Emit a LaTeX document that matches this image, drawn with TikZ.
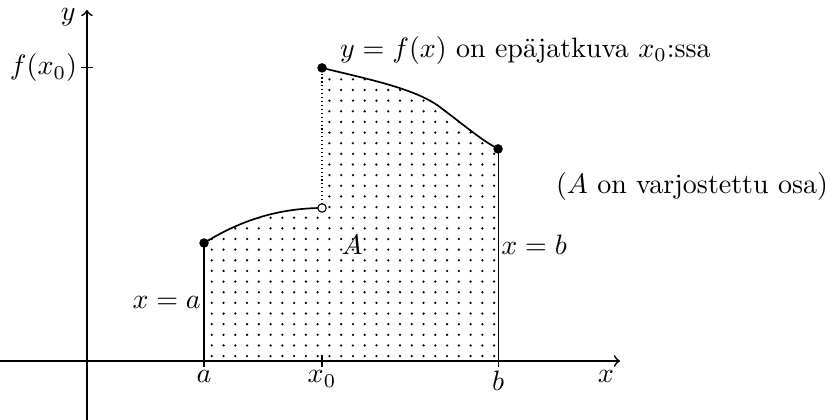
\documentclass[tikz,border=0pt]{standalone}
\usetikzlibrary{patterns.meta}
\tikzdeclarepattern{name=fdots,type=uncolored,
    bottom left={(-.5pt,-.5pt)},top right={(.5pt,.5pt)},
    tile size={(4.2pt,3.8pt)},
    code={\pgfpathcircle{\pgfpointorigin}{0.45pt}\pgfusepath{fill}}}
\begin{document}
\begin{tikzpicture}[scale=1.071,dot/.style={circle,fill,inner sep=0pt,minimum size=3.4pt},
        hole/.style={circle,draw,fill=white,inner sep=0pt,minimum size=3pt},
        graph/.style={semithick},axis/.style={line width=0.6pt}]
            \useasboundingbox(-1.019,-0.691)rectangle(8.646,4.229);
            \coordinate(O)at(0,0);
            \coordinate(XL)at(-1.019,0);
            \coordinate(XR)at(6.244,0);
            \coordinate(YB)at(0,-0.691);
            \coordinate(YT)at(0,4.112);
            \coordinate(YF)at(0,3.433);
            \coordinate(A)at(1.371,0);
            \coordinate(X)at(2.753,0);
            \coordinate(B)at(4.815,0);
            \coordinate(FA)at(1.371,1.382);
            \coordinate(FL)at(2.753,1.792);
            \coordinate(FX)at(2.753,3.433);
            \coordinate(FB)at(4.815,2.484);
            \fill[pattern=fdots](A)--(FA)..controls(1.8,1.65)and(2.25,1.79)..(FL)
                --(FX)..controls(3.3,3.3)and(3.8,3.2)..(4.1,3.0)
                ..controls(4.4,2.78)and(4.6,2.6)..(FB)--(B)--cycle;
            \draw[axis,->](XL)--(XR);
            \draw[axis,->](YB)--(YT);
            \draw([xshift=-2pt]YF)--([xshift=2pt]YF);
            \draw([yshift=-2pt]A)--(FA);
            \draw([yshift=-2pt]B)--(FB);
            \draw([yshift=-2pt]X)--([yshift=2pt]X);
            \draw[densely dotted](FL)--(FX);
            \draw[graph](FA)..controls(1.8,1.65)and(2.25,1.79)..(FL);
            \draw[graph](FX)..controls(3.3,3.3)and(3.8,3.2)..(4.1,3.0)
                ..controls(4.4,2.78)and(4.6,2.6)..(FB);
            \node[dot](PA)at(FA){};
            \node[hole](PL)at(FL){};
            \node[dot](PX)at(FX){};
            \node[dot](PB)at(FB){};
            \node(ly)at(-0.22,4.03){$y$};
            \node[left](lf)at(YF){$f(x_0)$};
            \node[below](la)at(A){$a$};
            \node[below](lx0)at(X){$x_0$};
            \node[below](lb)at(B){$b$};
            \node[below](lx)at(6.08,0){$x$};
            \path(A)--(FA)node[left,pos=0.5,inner sep=1pt](xa){$x=a$};
            \path(B)--(FB)node[right,pos=0.55,inner sep=1pt](xb){$x=b$};
            \node(lA)at(3.105,1.36){$A$};
            \node[anchor=base west,inner sep=0pt](lfx)at(2.96,3.56){$y=f(x)$ on epäjatkuva $x_0$:ssa};
            \node(note)at(7.088,2.05){($A$ on varjostettu osa)};
        \end{tikzpicture}
\end{document}
